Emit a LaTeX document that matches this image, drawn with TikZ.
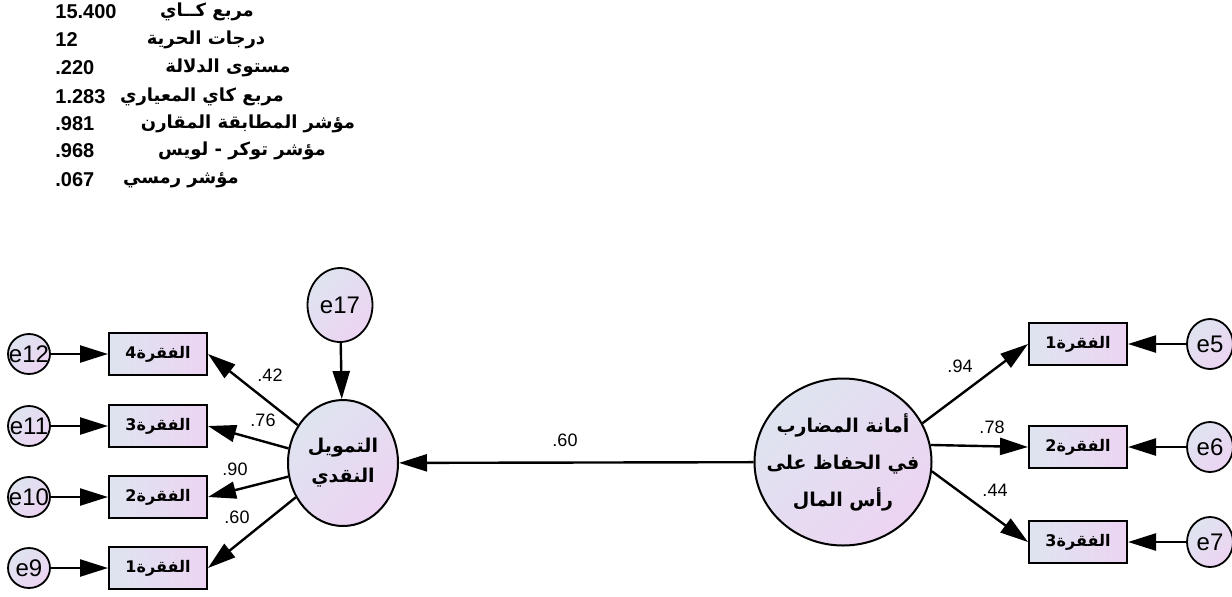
\documentclass[tikz,border=0pt]{standalone}
\usepackage{fontspec}
\setmainfont{Liberation Sans}
\newfontfamily\arabicfont[Script=Arabic]{DejaVu Sans}
\TeXXeTstate=1
\usetikzlibrary{arrows.meta,shapes.geometric}
\definecolor{cblue}{RGB}{222,228,240}
\definecolor{cpink}{RGB}{236,212,242}
\newcommand{\artxt}[1]{{\arabicfont\bfseries\beginR #1\endR}}
\newcommand{\itemtxt}[1]{{\arabicfont\bfseries\beginR الفقرة\beginL #1\endL\endR}}

\begin{document}
\begin{tikzpicture}[x=0.5pt,y=-0.5pt,
  arr/.style={-{Triangle[length=14pt,width=8.5pt]},line width=1.2pt},
  box/.style={draw,line width=1pt,minimum width=49pt,minimum height=21pt,inner sep=0pt,
    left color=cblue,right color=cpink,font=\fontsize{8}{8}\selectfont},
  lat/.style={ellipse,draw,line width=1pt,inner sep=0pt,
    top color=cblue,bottom color=cpink,shading angle=45},
  ltxt/.style={align=center,inner sep=0pt},
  err/.style={ellipse,draw,line width=0.9pt,inner sep=-6pt,
    top color=cblue,bottom color=cpink,shading angle=45,font=\fontsize{12}{12}\selectfont},
  lbl/.style={inner sep=0pt,font=\fontsize{9}{9}\selectfont},
  num/.style={anchor=west,inner sep=0pt,font=\fontsize{10}{10}\selectfont\bfseries},
  fit/.style={inner sep=0pt,font=\fontsize{9}{9}\selectfont}]
\useasboundingbox (0,0) rectangle (1232,596);

% fit indices
\node[num] (n1) at (55,12) {15.400};
\node[num] (n2) at (55,40) {12};
\node[num] (n3) at (55,68) {.220};
\node[num] (n4) at (55,97) {1.283};
\node[num] (n5) at (55,124) {.981};
\node[num] (n6) at (55,151) {.968};
\node[num] (n7) at (55,180) {.067};
\node[fit] (t1) at (207,12) {\artxt{مربع كــاي}};
\node[fit] (t2) at (206,40) {\artxt{درجات الحرية}};
\node[fit] (t3) at (228,68) {\artxt{مستوى الدلالة}};
\node[fit] (t4) at (202,97) {\artxt{مربع كاي المعياري}};
\node[fit] (t5) at (248,124) {\artxt{مؤشر المطابقة المقارن}};
\node[fit] (t6) at (242,151) {\artxt{مؤشر توكر - لويس}};
\node[fit] (t7) at (181,180) {\artxt{مؤشر رمسي}};

% latent variables
\node[lat,minimum width=55pt,minimum height=63pt,
  label={[ltxt,font=\fontsize{9.5}{15}\selectfont\arabicfont\bfseries]center:{\beginR التمويل\endR\\\beginR النقدي\endR}}] (tam) at (343,463) {};
\node[lat,minimum width=88.5pt,minimum height=83.5pt,
  label={[ltxt,font=\fontsize{9.5}{18.5}\selectfont\arabicfont\bfseries]center:{\beginR أمانة المضارب\endR\\\beginR في الحفاظ على\endR\\\beginR رأس المال\endR}}] (amn) at (843,462) {};
\node[err,minimum width=32.5pt,minimum height=37pt] (e17) at (340,305) {e17};

% items
\node[box] (b4) at (158,354) {\itemtxt{4}};
\node[box] (b3) at (158,426) {\itemtxt{3}};
\node[box] (b2) at (158,497) {\itemtxt{2}};
\node[box] (b1) at (158,568) {\itemtxt{1}};
\node[box] (r1) at (1078,344) {\itemtxt{1}};
\node[box] (r2) at (1078,447) {\itemtxt{2}};
\node[box] (r3) at (1078,542) {\itemtxt{3}};

% errors
\node[err,minimum width=21pt,minimum height=20pt] (e12) at (29,354) {e12};
\node[err,minimum width=21pt,minimum height=20pt] (e11) at (29,426) {e11};
\node[err,minimum width=21pt,minimum height=20pt] (e10) at (29,497) {e10};
\node[err,minimum width=21pt,minimum height=20pt] (e9) at (29,568) {e9};
\node[err,minimum width=23pt,minimum height=25pt] (e5) at (1210,344) {e5};
\node[err,minimum width=23pt,minimum height=25pt] (e6) at (1210,447) {e6};
\node[err,minimum width=23pt,minimum height=25pt] (e7) at (1210,542) {e7};

% paths
\draw[arr] (amn) -- (tam);
\draw[arr] (e17) -- (tam);
\draw[arr] (tam.140) -- (b4.east);
\draw[arr] (tam.165) -- (b3.east);
\draw[arr] (tam.194) -- (b2.east);
\draw[arr] (tam.216) -- (b1.east);
\draw[arr] (amn.26) -- (r1.west);
\draw[arr] (amn.11) -- (r2.west);
\draw[arr] (amn.-6) -- (r3.west);
\foreach \e/\b in {e12/b4,e11/b3,e10/b2,e9/b1,e5/r1,e6/r2,e7/r3}
  \draw[arr] (\e) -- (\b);

% estimates
\node[lbl] (l42) at (270,375) {.42};
\node[lbl] (l76) at (263,420) {.76};
\node[lbl] (l90) at (235,469) {.90};
\node[lbl] (l60) at (237,517) {.60};
\node[lbl] (lmain) at (565,440) {.60};
\node[lbl] (l94) at (960,366) {.94};
\node[lbl] (l78) at (992,427) {.78};
\node[lbl] (l44) at (995,490) {.44};
\end{tikzpicture}
\end{document}
